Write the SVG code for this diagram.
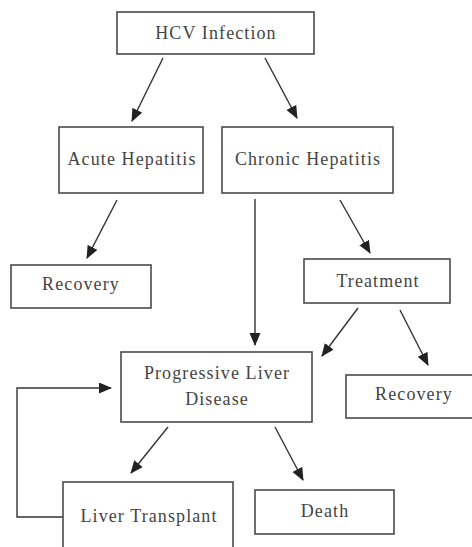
<svg xmlns="http://www.w3.org/2000/svg" width="472" height="547" viewBox="0 0 472 547">
<style>
.box{fill:#fff;stroke:#4a4a4a;stroke-width:1.6}
.t{font-family:"Liberation Serif","Times New Roman",serif;font-size:18px;letter-spacing:1.1px;fill:#444;text-anchor:middle}
.c{fill:none;stroke:#333;stroke-width:1.4}
</style>
<defs>
<marker id="ah" markerUnits="userSpaceOnUse" markerWidth="14" markerHeight="12" refX="12" refY="5.5" orient="auto">
<path d="M0,0 L13,5.5 L0,11 Z" fill="#222"/>
</marker>
</defs>
<rect width="472" height="547" fill="#fff"/>
<g id="connectors">
<line class="c" x1="163" y1="58" x2="132" y2="121" marker-end="url(#ah)"/>
<line class="c" x1="265" y1="58" x2="297" y2="118" marker-end="url(#ah)"/>
<line class="c" x1="117" y1="200" x2="87" y2="258" marker-end="url(#ah)"/>
<line class="c" x1="255" y1="199" x2="255" y2="345" marker-end="url(#ah)"/>
<line class="c" x1="340" y1="200" x2="370" y2="253" marker-end="url(#ah)"/>
<line class="c" x1="358" y1="308" x2="322" y2="356" marker-end="url(#ah)"/>
<line class="c" x1="400" y1="310" x2="428" y2="365" marker-end="url(#ah)"/>
<line class="c" x1="168" y1="427" x2="131" y2="473" marker-end="url(#ah)"/>
<line class="c" x1="275" y1="427" x2="303" y2="480" marker-end="url(#ah)"/>
<polyline class="c" points="63,517 17,517 17,388 111,388" marker-end="url(#ah)"/>
</g>
<g id="hcv">
<rect class="box" x="117" y="12" width="197" height="42"/>
<text class="t" x="216" y="39">HCV Infection</text>
</g>
<g id="acute">
<rect class="box" x="59" y="127" width="144" height="66"/>
<text class="t" x="132" y="165">Acute Hepatitis</text>
</g>
<g id="chronic">
<rect class="box" x="222" y="127" width="171" height="66"/>
<text class="t" x="308" y="165">Chronic Hepatitis</text>
</g>
<g id="recovery1">
<rect class="box" x="11" y="265" width="140" height="43"/>
<text class="t" x="81" y="290">Recovery</text>
</g>
<g id="treatment">
<rect class="box" x="304" y="259" width="146" height="44"/>
<text class="t" x="378" y="287">Treatment</text>
</g>
<g id="pld">
<rect class="box" x="121" y="352" width="191" height="70"/>
<text class="t" x="217" y="379">Progressive Liver</text>
<text class="t" x="217" y="405">Disease</text>
</g>
<g id="recovery2">
<rect class="box" x="346" y="375" width="140" height="43"/>
<text class="t" x="414" y="400">Recovery</text>
</g>
<g id="transplant">
<rect class="box" x="63" y="482" width="170" height="80"/>
<text class="t" x="149" y="522">Liver Transplant</text>
</g>
<g id="death">
<rect class="box" x="255" y="490" width="139" height="44"/>
<text class="t" x="325" y="517">Death</text>
</g>
</svg>
